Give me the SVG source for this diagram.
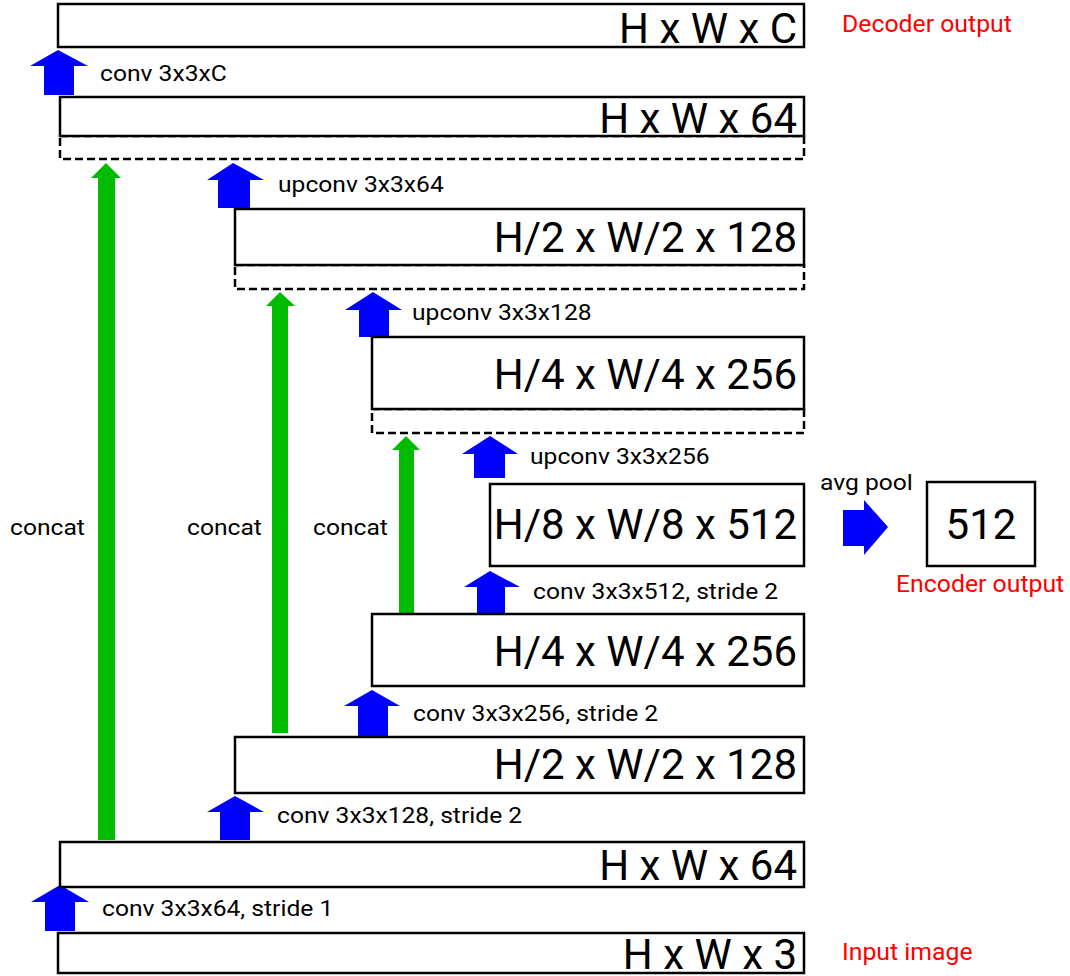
<svg xmlns="http://www.w3.org/2000/svg" width="1070" height="976" viewBox="0 0 1070 976">
<style>
.box{fill:#fff;stroke:#000;stroke-width:2.5}
.dash{fill:none;stroke:#000;stroke-width:2.5;stroke-dasharray:8 4}
.big{font-family:Roboto,"Liberation Sans",sans-serif;font-size:42px;fill:#000;text-anchor:end}
.lbl{font-family:Roboto,"Liberation Sans",sans-serif;font-size:22px;fill:#000}
.red{font-family:Roboto,"Liberation Sans",sans-serif;font-size:24.8px;fill:#f00}
.blue{fill:#0000ff}
.green{fill:#00bb00}
</style>
<rect width="1070" height="976" fill="#fff"/>
<g id="connectors">
  <g class="green">
    <polygon points="106,163 121,178 115,178 115,840 98,840 98,178 91,178"/>
    <polygon points="280,292 295,306 288,306 288,733 272,733 272,306 266,306"/>
    <polygon points="406,436 420,450 414,450 414,614 399,614 399,450 392,450"/>
  </g>
  <g class="blue">
    <polygon points="58,50 88,66 74,66 74,95 44,95 44,66 30,66"/>
    <polygon points="233,163 264,180 250,180 250,208 218,208 218,180 207,180"/>
    <polygon points="373,292 402,310 389,310 389,337 359,337 359,310 345,310"/>
    <polygon points="490,436 518,454 505,454 505,478 474,478 474,454 462,454"/>
    <polygon points="490,571 520,587 505,587 505,614 477,614 477,587 464,587"/>
    <polygon points="372,690 400,706 388,706 388,736 358,736 358,706 344,706"/>
    <polygon points="235,796 264,812 250,812 250,840 220,840 220,812 207,812"/>
    <polygon points="60,885 89,902 75,902 75,931 45,931 45,902 31,902"/>
    <polygon points="843,510 864,510 864,500 888,527 864,555 864,546 843,546"/>
  </g>
</g>
<g id="labels">
  <text class="lbl" transform="translate(100,81) scale(1.12,1)">conv 3x3xC</text>
  <text class="lbl" transform="translate(278,192) scale(1.12,1)">upconv 3x3x64</text>
  <text class="lbl" transform="translate(412,320) scale(1.12,1)">upconv 3x3x128</text>
  <text class="lbl" transform="translate(530,464) scale(1.12,1)">upconv 3x3x256</text>
  <text class="lbl" transform="translate(820,490) scale(1.12,1)">avg pool</text>
  <text class="lbl" transform="translate(533,599) scale(1.12,1)">conv 3x3x512, stride 2</text>
  <text class="lbl" transform="translate(413,721) scale(1.12,1)">conv 3x3x256, stride 2</text>
  <text class="lbl" transform="translate(277,823) scale(1.12,1)">conv 3x3x128, stride 2</text>
  <text class="lbl" transform="translate(102,916) scale(1.12,1)">conv 3x3x64, stride 1</text>
  <text class="lbl" transform="translate(10,535) scale(1.12,1)">concat</text>
  <text class="lbl" transform="translate(187,535) scale(1.12,1)">concat</text>
  <text class="lbl" transform="translate(313,535) scale(1.12,1)">concat</text>
  <text class="red" x="842" y="32">Decoder output</text>
  <text class="red" x="896" y="592">Encoder output</text>
  <text class="red" x="842" y="960">Input image</text>
</g>
<g id="dec_out">
  <rect class="box" x="58" y="4" width="746" height="43"/>
  <text class="big" x="797" y="43">H x W x C</text>
</g>
<g id="dec_64">
  <rect class="dash" x="60" y="136" width="744" height="23"/>
  <rect class="box" x="60" y="97" width="744" height="39"/>
  <text class="big" x="797" y="133">H x W x 64</text>
</g>
<g id="dec_128">
  <rect class="dash" x="235" y="265" width="569" height="24"/>
  <rect class="box" x="235" y="209" width="569" height="56"/>
  <text class="big" x="797" y="252">H/2 x W/2 x 128</text>
</g>
<g id="dec_256">
  <rect class="dash" x="372" y="409" width="432" height="24"/>
  <rect class="box" x="372" y="337" width="432" height="72"/>
  <text class="big" x="797" y="389">H/4 x W/4 x 256</text>
</g>
<g id="bottleneck">
  <rect class="box" x="490" y="484" width="314" height="82"/>
  <text class="big" x="797" y="539">H/8 x W/8 x 512</text>
</g>
<g id="enc_out">
  <rect class="box" x="927" y="482" width="108" height="84"/>
  <text class="big" x="981" y="539" style="text-anchor:middle">512</text>
</g>
<g id="enc_256">
  <rect class="box" x="372" y="614" width="432" height="72"/>
  <text class="big" x="797" y="666">H/4 x W/4 x 256</text>
</g>
<g id="enc_128">
  <rect class="box" x="235" y="737" width="569" height="56"/>
  <text class="big" x="797" y="779">H/2 x W/2 x 128</text>
</g>
<g id="enc_64">
  <rect class="box" x="60" y="842" width="744" height="45"/>
  <text class="big" x="797" y="880">H x W x 64</text>
</g>
<g id="input">
  <rect class="box" x="58" y="933" width="746" height="40"/>
  <text class="big" x="797" y="969">H x W x 3</text>
</g>
</svg>
